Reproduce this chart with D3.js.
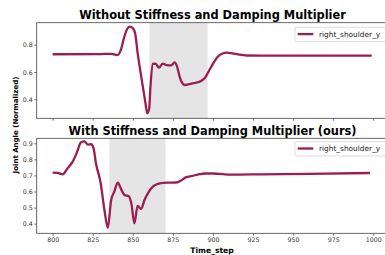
<!DOCTYPE html>
<html>
<head>
<meta charset="utf-8">
<script src="https://cdn.jsdelivr.net/npm/d3@7"></script>
<style>
  body { margin: 0; background: #fff; }
  svg { display: block; font-family: "DejaVu Sans", sans-serif; }
</style>
</head>
<body>
<div id="chart"></div>
<script>
// time steps / joint angle
var stepsTop = [800, 830, 836, 838, 840.5, 842.5, 844.5, 846.5, 848, 850, 851.5, 853, 854.8, 856.3, 857.8, 859, 860.2, 861, 862.5, 864.2, 866.3, 868.7, 870.9, 874, 876, 877.5, 879.2, 880.8, 882.3, 885.4, 889, 891.7, 894.8, 899, 903, 906, 908.5, 912, 916, 921, 930, 950, 975, 999];
var angleTop = [0.73, 0.731, 0.733, 0.73, 0.724, 0.76, 0.85, 0.915, 0.932, 0.922, 0.88, 0.74, 0.6, 0.49, 0.38, 0.297, 0.33, 0.49, 0.659, 0.662, 0.632, 0.662, 0.651, 0.648, 0.671, 0.645, 0.566, 0.52, 0.505, 0.512, 0.52, 0.529, 0.554, 0.64, 0.712, 0.735, 0.742, 0.737, 0.728, 0.721, 0.72, 0.72, 0.72, 0.72];

var stepsBottom = [800, 803, 806.3, 809, 812.5, 815, 817.7, 819.8, 821.9, 824, 825.5, 827, 830, 832.3, 834.4, 836.5, 838.5, 840.6, 842.7, 844.8, 847.5, 849.2, 851, 853, 855.2, 857.3, 859.5, 862.5, 865, 867.7, 872, 877, 880, 883, 887, 891.7, 895, 900, 912, 930, 960, 998];
var angleBottom = [0.717, 0.716, 0.707, 0.74, 0.786, 0.84, 0.906, 0.912, 0.892, 0.894, 0.87, 0.776, 0.65, 0.485, 0.375, 0.547, 0.6, 0.655, 0.615, 0.578, 0.57, 0.52, 0.402, 0.51, 0.492, 0.547, 0.59, 0.63, 0.645, 0.652, 0.655, 0.656, 0.668, 0.688, 0.697, 0.708, 0.712, 0.712, 0.705, 0.707, 0.71, 0.715];

var shadeTop = [860.4, 896.7];
var shadeBottom = [835.4, 870.4];

var titles = ["Without Stiffness and Damping Multiplier", "With Stiffness and Damping Multiplier (ours)"];
var seriesName = "right_shoulder_y";
var xTicks = [800, 825, 850, 875, 900, 925, 950, 975, 1000];
var yTicksTop = [0.4, 0.6, 0.8];
var yTicksBottom = [0.4, 0.5, 0.6, 0.7, 0.8, 0.9];

var W = 385, H = 255;
var lineColor = "#9b1d52";

var svg = d3.select("#chart").append("svg")
    .attr("width", W)
    .attr("height", H);

var x = d3.scaleLinear().domain([790.05, 1008.95]).range([36.7, 387.6]);

var panels = [
  {steps: stepsTop, vals: angleTop, shade: shadeTop, yTicks: yTicksTop,
   y: d3.scaleLinear().domain([0.261, 0.961]).range([118.3, 22.7]), title: titles[0], titleY: 19, legY: 27.3, labels: false},
  {steps: stepsBottom, vals: angleBottom, shade: shadeBottom, yTicks: yTicksBottom,
   y: d3.scaleLinear().domain([0.340, 0.931]).range([233.3, 138.3]), title: titles[1], titleY: 134.5, legY: 141.7, labels: true}
];

panels.forEach(function(p) {
  var y = p.y;
  var top = y.range()[1], bottom = y.range()[0];
  var g = svg.append("g");

  // shaded window
  g.append("rect")
      .attr("x", x(p.shade[0]))
      .attr("y", top)
      .attr("width", x(p.shade[1]) - x(p.shade[0]))
      .attr("height", bottom - top)
      .attr("fill", "#e5e5e5");

  var data = p.steps.map(function(s, i) { return [s, p.vals[i]]; });
  var line = d3.line()
      .x(function(d) { return x(d[0]); })
      .y(function(d) { return y(d[1]); })
      .curve(d3.curveMonotoneX);

  g.append("path")
      .datum(data)
      .attr("d", line)
      .attr("fill", "none")
      .attr("stroke", lineColor)
      .attr("stroke-width", 2.3)
      .attr("stroke-linejoin", "round");

  // axes
  var xAxis = g.append("g")
      .attr("transform", "translate(0," + bottom + ")")
      .call(d3.axisBottom(x).tickValues(xTicks).tickSize(2.5).tickPadding(2)
        .tickFormat(p.labels ? d3.format("d") : function() { return ""; }));
  var yAxis = g.append("g")
      .attr("transform", "translate(" + x.range()[0] + ",0)")
      .call(d3.axisLeft(y).tickValues(p.yTicks).tickSize(2.5).tickPadding(1.5).tickFormat(d3.format(".1f")));
  [xAxis, yAxis].forEach(function(a) {
    a.select(".domain").remove();
    a.selectAll("line").attr("stroke", "#444").attr("stroke-width", 0.7);
    a.selectAll("text").attr("fill", "#333").style("font-size", "6.3px")
      .style("font-family", "DejaVu Sans");
  });

  // frame
  g.append("rect")
      .attr("x", x.range()[0])
      .attr("y", top)
      .attr("width", x.range()[1] - x.range()[0])
      .attr("height", bottom - top)
      .attr("fill", "none")
      .attr("stroke", "#444")
      .attr("stroke-width", 0.8);

  g.append("text")
      .attr("x", 212.5)
      .attr("y", p.titleY)
      .attr("text-anchor", "middle")
      .style("font-size", "11.4px")
      .style("font-weight", "bold")
      .text(p.title);

  // legend
  var leg = g.append("g").attr("transform", "translate(295," + p.legY + ")");
  leg.append("rect")
      .attr("width", 92).attr("height", 14.2).attr("rx", 1.5)
      .attr("fill", "#fff").attr("fill-opacity", 0.8)
      .attr("stroke", "#ccc").attr("stroke-width", 0.7);
  leg.append("line")
      .attr("x1", 2.7).attr("x2", 18.3).attr("y1", 6.8).attr("y2", 6.8)
      .attr("stroke", lineColor).attr("stroke-width", 2.3);
  leg.append("text")
      .attr("x", 24).attr("y", 9.4)
      .style("font-size", "7.4px")
      .attr("fill", "#222")
      .text(seriesName);
});

svg.append("text")
    .attr("x", 212).attr("y", 252.5)
    .attr("text-anchor", "middle")
    .style("font-size", "7.6px").style("font-weight", "bold")
    .text("Time_step");

svg.append("text")
    .attr("transform", "translate(17.5,125)rotate(-90)")
    .attr("text-anchor", "middle")
    .style("font-size", "7px").style("font-weight", "bold")
    .text("Joint Angle (Normalized)");
</script>
</body>
</html>
